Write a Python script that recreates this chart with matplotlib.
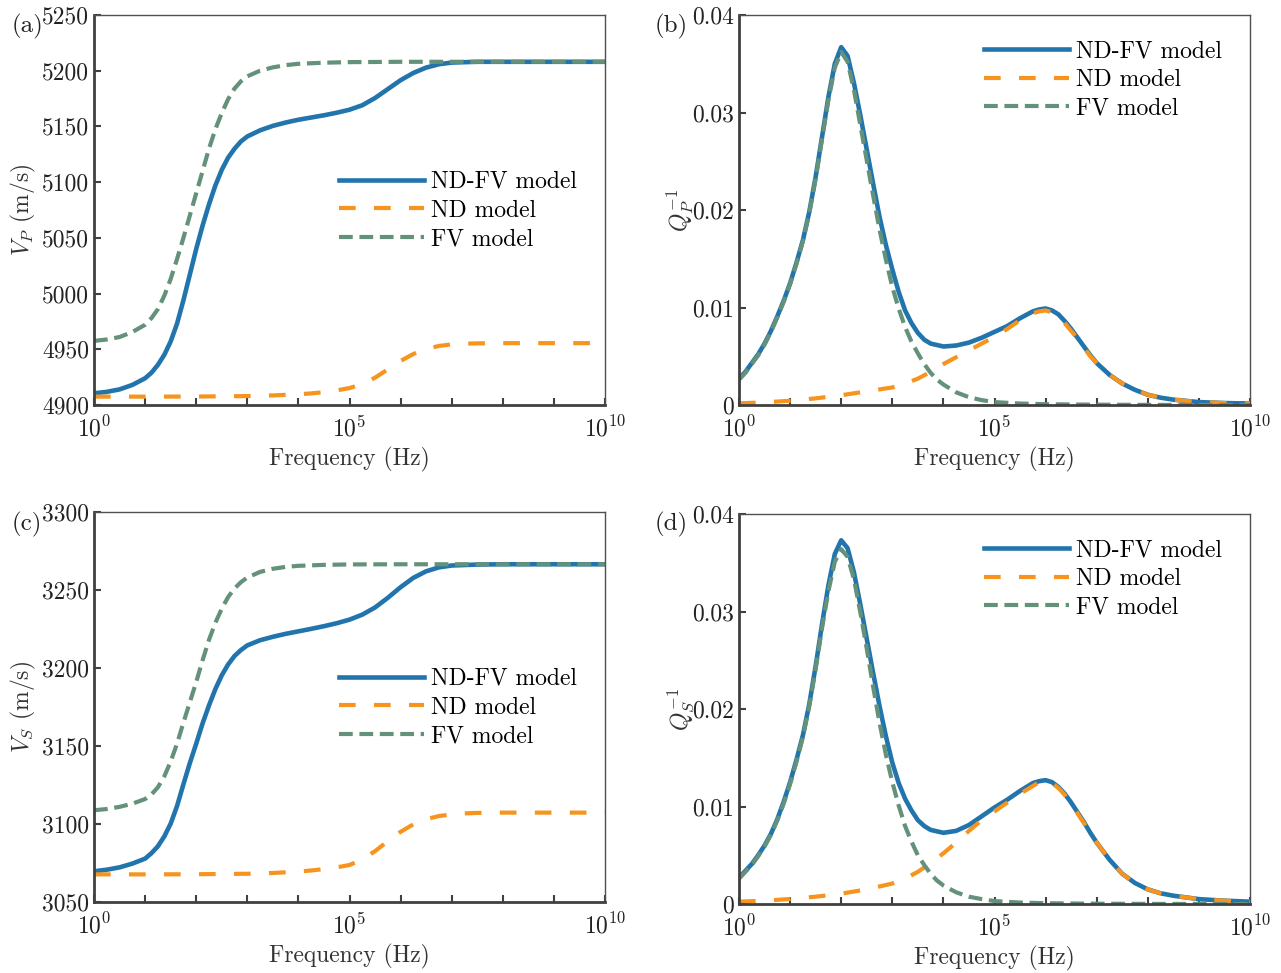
import numpy as np
import matplotlib
matplotlib.use('Agg')
import matplotlib.pyplot as plt
from matplotlib.ticker import FixedLocator, FuncFormatter, LogFormatterSciNotation, NullFormatter

plt.rcParams['font.family'] = ['cmr10', 'DejaVu Serif']
plt.rcParams['mathtext.fontset'] = 'cm'
plt.rcParams['axes.formatter.use_mathtext'] = True
plt.rcParams['axes.unicode_minus'] = False

# frequency positions given as log10(f)
# (a) P-wave velocity
vp_ndfv_exp = [0, 0.25, 0.5, 0.75, 1, 1.125, 1.25, 1.375, 1.5, 1.625, 1.75, 1.875, 2,
               2.125, 2.25, 2.375, 2.5, 2.625, 2.75, 2.875, 3, 3.25, 3.5, 3.75, 4, 4.25,
               4.5, 4.75, 5, 5.25, 5.5, 5.75, 6, 6.25, 6.5, 6.75, 7, 7.5, 8, 10]
vp_ndfv = [4910.5, 4911.8, 4914, 4918, 4924, 4929, 4936, 4945, 4957, 4973, 4994, 5017,
           5040, 5061, 5080, 5097, 5111, 5122, 5130, 5136.5, 5141, 5146.5, 5150.5,
           5153.5, 5156, 5158, 5160, 5162.3, 5165, 5169, 5175.5, 5183.5, 5191.5, 5198,
           5202.8, 5205.8, 5207.3, 5208, 5208, 5208]
vp_fv_exp = [0, 0.25, 0.5, 0.75, 1, 1.125, 1.25, 1.375, 1.5, 1.625, 1.75, 1.875, 2,
             2.125, 2.25, 2.375, 2.5, 2.625, 2.75, 2.875, 3, 3.25, 3.5, 3.75, 4, 4.5, 5,
             6, 10]
vp_fv = [4957.5, 4958.8, 4961, 4965.5, 4972, 4978, 4986, 4998, 5013, 5031, 5050, 5070,
         5090, 5110, 5130, 5147.5, 5162, 5174.5, 5184, 5190.5, 5195, 5200, 5203, 5205,
         5206.2, 5207.2, 5207.7, 5208, 5208]
vp_nd_exp = [0, 1, 2, 3, 3.5, 4, 4.25, 4.5, 4.75, 5, 5.25, 5.5, 5.75, 6, 6.25, 6.5,
             6.75, 7, 7.25, 7.5, 8, 10]
vp_nd = [4907.5, 4907.5, 4907.6, 4908, 4908.6, 4909.6, 4910.4, 4911.5, 4913.1, 4915.2,
         4918.8, 4924.5, 4932, 4939.5, 4945.8, 4950.2, 4953, 4954.4, 4955, 4955.3,
         4955.5, 4955.5]

# (c) S-wave velocity
vs_ndfv_exp = [0, 0.25, 0.5, 0.75, 1, 1.125, 1.25, 1.375, 1.5, 1.625, 1.75, 1.875, 2,
               2.125, 2.25, 2.375, 2.5, 2.625, 2.75, 2.875, 3, 3.25, 3.5, 3.75, 4, 4.25,
               4.5, 4.75, 5, 5.25, 5.5, 5.75, 6, 6.25, 6.5, 6.75, 7, 7.5, 8, 10]
vs_ndfv = [3069.7, 3070.7, 3072.2, 3074.6, 3077.8, 3081.3, 3085.7, 3092, 3100.2, 3111.5,
           3125.5, 3139, 3151.5, 3164.5, 3176, 3186.5, 3195.3, 3202.3, 3207.7, 3211.5,
           3214.5, 3217.8, 3220, 3221.9, 3223.5, 3225.1, 3226.8, 3228.7, 3231, 3234.2,
           3238.8, 3245, 3251.8, 3257.8, 3262, 3264.5, 3265.7, 3266.3, 3266.5, 3266.5]
vs_fv_exp = [0, 0.25, 0.5, 0.75, 1, 1.125, 1.25, 1.375, 1.5, 1.625, 1.75, 1.875, 2,
             2.125, 2.25, 2.375, 2.5, 2.625, 2.75, 2.875, 3, 3.25, 3.5, 3.75, 4, 4.5, 5,
             6, 10]
vs_fv = [3108.8, 3109.6, 3111, 3113, 3116, 3119, 3123.5, 3130.5, 3140, 3151.5, 3165,
         3178, 3191, 3205, 3218, 3229, 3238, 3245.5, 3251, 3255, 3258, 3261.6, 3263.6,
         3264.8, 3265.5, 3266.1, 3266.4, 3266.5, 3266.5]
vs_nd_exp = [0, 1, 2, 3, 3.5, 4, 4.25, 4.5, 4.75, 5, 5.25, 5.5, 5.75, 6, 6.25, 6.5,
             6.75, 7, 7.25, 7.5, 8, 10]
vs_nd = [3067.7, 3067.7, 3067.8, 3068.1, 3068.6, 3069.5, 3070.2, 3071.1, 3072.2, 3073.7,
         3077.3, 3082.6, 3089, 3095, 3099.8, 3103.1, 3105.1, 3106.2, 3106.8, 3107.1,
         3107.3, 3107.3]

# (b) and (d) attenuation
q_ndfv_exp = [0, 0.125, 0.25, 0.375, 0.5, 0.625, 0.75, 0.875, 1, 1.125, 1.25, 1.375,
              1.5, 1.625, 1.75, 1.875, 2, 2.125, 2.25, 2.375, 2.5, 2.625, 2.75, 2.875,
              3, 3.125, 3.25, 3.375, 3.5, 3.625, 3.75, 4, 4.25, 4.5, 4.75, 5, 5.25, 5.5,
              5.75, 5.875, 6, 6.125, 6.25, 6.375, 6.5, 6.625, 6.75, 6.875, 7, 7.25, 7.5,
              7.75, 8, 8.25, 8.5, 9, 9.5, 10]
qp_ndfv = [0.0027, 0.0034, 0.0043, 0.0052, 0.0063, 0.0076, 0.0091, 0.0107, 0.0125,
           0.0146, 0.0169, 0.0198, 0.0234, 0.0275, 0.0316, 0.0350, 0.0367, 0.0358,
           0.0330, 0.0297, 0.0262, 0.0227, 0.0193, 0.0164, 0.0139, 0.0116, 0.0097,
           0.0084, 0.0074, 0.0067, 0.0063, 0.0060, 0.0061, 0.0064, 0.0069, 0.0075,
           0.0081, 0.0089, 0.0096, 0.0098, 0.0099, 0.0097, 0.0093, 0.0086, 0.0078,
           0.0069, 0.0060, 0.0051, 0.0043, 0.0031, 0.0022, 0.00155, 0.00105, 0.00075,
           0.00055, 0.0003, 0.0002, 0.00015]
qs_ndfv = [0.0027, 0.0034, 0.0041, 0.0050, 0.0060, 0.0072, 0.0087, 0.0105, 0.0125,
           0.0148, 0.0173, 0.0205, 0.0244, 0.0287, 0.0327, 0.0359, 0.0373, 0.0365,
           0.0340, 0.0307, 0.0272, 0.0237, 0.0203, 0.0172, 0.0145, 0.0124, 0.0108,
           0.0096, 0.0086, 0.0080, 0.0076, 0.0073, 0.0075, 0.0081, 0.0090, 0.0099,
           0.0107, 0.0116, 0.0124, 0.0126, 0.0127, 0.0125, 0.0120, 0.0113, 0.0104,
           0.0094, 0.0084, 0.0073, 0.0063, 0.00455, 0.0031, 0.00215, 0.0015, 0.0011,
           0.00085, 0.0005, 0.00034, 0.00024]
q_fv_exp = [0, 0.125, 0.25, 0.375, 0.5, 0.625, 0.75, 0.875, 1, 1.125, 1.25, 1.375, 1.5,
            1.625, 1.75, 1.875, 2, 2.125, 2.25, 2.375, 2.5, 2.625, 2.75, 2.875, 3, 3.125,
            3.25, 3.375, 3.5, 3.625, 3.75, 3.875, 4, 4.25, 4.5, 4.75, 5, 5.5, 6, 7, 8, 10]
qp_fv = [0.0026, 0.0033, 0.0042, 0.0051, 0.0062, 0.0075, 0.0090, 0.0106, 0.0124, 0.0145,
         0.0168, 0.0197, 0.0232, 0.0273, 0.0313, 0.0346, 0.0362, 0.0352, 0.0323, 0.0287,
         0.0251, 0.0215, 0.0180, 0.0149, 0.0121, 0.0099, 0.0080, 0.0065, 0.0053, 0.0042,
         0.0033, 0.0026, 0.0021, 0.0013, 0.0008, 0.0005, 0.0003, 0.00015, 0.00008,
         0.00003, 0.00001, 0.0]
qs_fv = [0.0026, 0.0033, 0.0040, 0.0049, 0.0059, 0.0071, 0.0086, 0.0103, 0.0123, 0.0146,
         0.0171, 0.0203, 0.0241, 0.0283, 0.0321, 0.0351, 0.0364, 0.0356, 0.0333, 0.0299,
         0.0262, 0.0223, 0.0186, 0.0153, 0.0125, 0.0101, 0.0080, 0.0064, 0.0050, 0.0040,
         0.0031, 0.0024, 0.0019, 0.0012, 0.00075, 0.0005, 0.0003, 0.00015, 0.00008,
         0.00003, 0.00001, 0.0]
q_nd_exp = [0, 0.5, 1, 1.5, 2, 2.5, 3, 3.25, 3.5, 3.75, 4, 4.25, 4.5, 4.75, 5, 5.25,
            5.5, 5.75, 5.875, 6, 6.125, 6.25, 6.375, 6.5, 6.625, 6.75, 6.875, 7, 7.25,
            7.5, 7.75, 8, 8.25, 8.5, 9, 9.5, 10]
qp_nd = [0.00017, 0.00027, 0.00044, 0.00068, 0.00100, 0.00140, 0.0018, 0.0022, 0.0027,
         0.0034, 0.0042, 0.0049, 0.0056, 0.0063, 0.0070, 0.0078, 0.0087, 0.0094, 0.0096,
         0.0097, 0.0095, 0.0091, 0.0084, 0.0076, 0.0068, 0.0059, 0.0050, 0.0043, 0.0031,
         0.0022, 0.00155, 0.00105, 0.00075, 0.00055, 0.0003, 0.0002, 0.00015]
qs_nd = [0.00024, 0.00034, 0.00051, 0.00075, 0.00106, 0.0015, 0.0021, 0.0026, 0.0033,
         0.0042, 0.0052, 0.0063, 0.0075, 0.0086, 0.0095, 0.0104, 0.0113, 0.0121, 0.0125,
         0.0126, 0.0124, 0.0119, 0.0112, 0.0103, 0.0093, 0.0083, 0.0073, 0.0063,
         0.00455, 0.0031, 0.00215, 0.0015, 0.0011, 0.00085, 0.0005, 0.00034, 0.00024]

labels = ['ND-FV model', 'ND model', 'FV model']
c_ndfv = '#2274ad'
c_nd = '#f7941e'
c_fv = '#64917a'
spine_col = '#404040'


def hz(exps):
    return np.power(10.0, exps)


def setupAxes(ax, ylim, yticks, ylabel, yfmt):
    ax.set_xscale('log')
    ax.set_xlim(1, 1e10)
    ax.set_ylim(ylim)
    ax.xaxis.set_major_locator(FixedLocator([1, 1e5, 1e10]))
    ax.xaxis.set_major_formatter(LogFormatterSciNotation())
    ax.xaxis.set_minor_locator(FixedLocator([10.0 ** k for k in range(1, 10) if k != 5]))
    ax.xaxis.set_minor_formatter(NullFormatter())
    ax.set_yticks(yticks)
    ax.yaxis.set_major_formatter(FuncFormatter(yfmt))
    ax.tick_params(which='both', direction='in', length=5, width=1.5, color=spine_col,
                   labelsize=17, top=False, right=False, labelcolor='#222222')
    ax.tick_params(axis='x', pad=8)
    for s in ['left', 'bottom']:
        ax.spines[s].set_linewidth(2.0)
        ax.spines[s].set_color(spine_col)
    for s in ['top', 'right']:
        ax.spines[s].set_linewidth(1.0)
        ax.spines[s].set_color('#505050')
    ax.set_xlabel('Frequency (Hz)', fontsize=17, color='#333333')
    ax.xaxis.set_label_coords(0.5, -0.108)
    ax.set_ylabel(ylabel, fontsize=17, color='#333333')


def plotPanel(ax, a, b, c, legend_y):
    ax.plot(hz(a[0]), a[1], '-', color=c_ndfv, lw=3.3, label=labels[0])
    ax.plot(hz(b[0]), b[1], '--', color=c_nd, lw=3.0, dashes=(4, 4.4), label=labels[1])
    ax.plot(hz(c[0]), c[1], '--', color=c_fv, lw=3.0, dashes=(3.3, 1.6), label=labels[2])
    ax.legend(loc='upper left', bbox_to_anchor=(0.46, legend_y), frameon=False,
              fontsize=17, handlelength=3.6, handletextpad=0.3, labelspacing=0.28,
              borderaxespad=0)


fig = plt.figure(figsize=(12.81, 9.73), dpi=100)
W, H = 1281.0, 973.0
ax_a = fig.add_axes([94 / W, 1 - 405 / H, 511 / W, 390 / H])
ax_b = fig.add_axes([739 / W, 1 - 405 / H, 511 / W, 390 / H])
ax_c = fig.add_axes([94 / W, 1 - 902 / H, 511 / W, 390 / H])
ax_d = fig.add_axes([739 / W, 1 - 904 / H, 511 / W, 390 / H])

vfmt = lambda v, p: '%d' % v
qfmt = lambda v, p: '%g' % round(v, 4)

plotPanel(ax_a, (vp_ndfv_exp, vp_ndfv), (vp_nd_exp, vp_nd), (vp_fv_exp, vp_fv), 0.625)
setupAxes(ax_a, (4900, 5250), np.arange(4900, 5251, 50), r'$V_P$ (m/s)', vfmt)

plotPanel(ax_b, (q_ndfv_exp, qp_ndfv), (q_nd_exp, qp_nd), (q_fv_exp, qp_fv), 0.96)
setupAxes(ax_b, (0, 0.04), [0, 0.01, 0.02, 0.03, 0.04], r'$Q_P^{-1}$', qfmt)

plotPanel(ax_c, (vs_ndfv_exp, vs_ndfv), (vs_nd_exp, vs_nd), (vs_fv_exp, vs_fv), 0.625)
setupAxes(ax_c, (3050, 3300), np.arange(3050, 3301, 50), r'$V_S$ (m/s)', vfmt)

plotPanel(ax_d, (q_ndfv_exp, qs_ndfv), (q_nd_exp, qs_nd), (q_fv_exp, qs_fv), 0.96)
setupAxes(ax_d, (0, 0.04), [0, 0.01, 0.02, 0.03, 0.04], r'$Q_S^{-1}$', qfmt)

ax_a.yaxis.set_label_coords(-0.11, 0.5)
ax_c.yaxis.set_label_coords(-0.11, 0.5)
ax_b.yaxis.set_label_coords(-0.085, 0.5)
ax_d.yaxis.set_label_coords(-0.085, 0.5)

for txt, x, y in [('(a)', 12, 26), ('(b)', 655, 26), ('(c)', 12, 524), ('(d)', 655, 524)]:
    fig.text(x / W, 1 - y / H, txt, fontsize=18, va='center', ha='left', color='#222222')

fig.savefig('out.png', dpi=100)
